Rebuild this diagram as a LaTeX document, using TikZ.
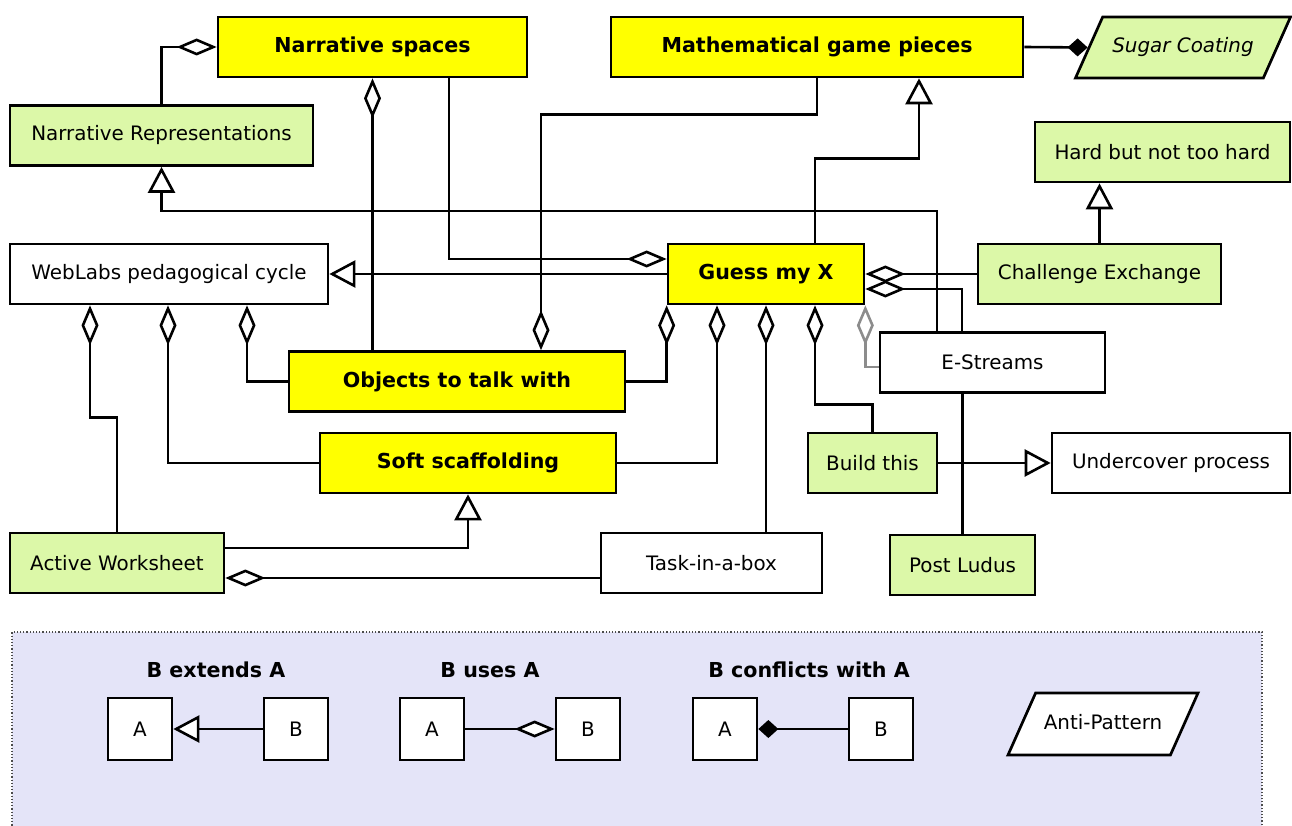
\documentclass[tikz,border=0pt]{standalone}
\usepackage{fontspec}
\setmainfont{DejaVu Sans}
\usetikzlibrary{arrows.meta,shapes.geometric}
\definecolor{padyellow}{HTML}{FFFF00}
\definecolor{padgreen}{HTML}{DCF8A8}
\definecolor{keyblue}{HTML}{E4E4F8}
\begin{document}
\begin{tikzpicture}[x=1pt,y=-1pt]
    \tikzstyle{padbox}=[draw=black,line width=2.7pt,minimum height=60pt,inner sep=0pt,font=\fontsize{19.9}{23}\selectfont]
    \tikzstyle{yellowbox}=[padbox,fill=padyellow,font=\fontsize{20.6}{24}\selectfont\bfseries]
    \tikzstyle{greenbox}=[padbox,fill=padgreen]
    \tikzstyle{whitebox}=[padbox,fill=white]
    \tikzstyle{antibox}=[padbox,minimum height=0pt,shape=trapezium,trapezium left angle=66,trapezium right angle=114,trapezium stretches body=true,text height=15pt,text depth=5pt,inner ysep=20.5pt]
    \tikzstyle{keytitle}=[font=\fontsize{20.6}{24}\selectfont\bfseries]
    \tikzstyle{uses}=[line width=2.6pt,-{Diamond[fill=white,length=40pt,width=17pt]}]
    \tikzstyle{extends}=[line width=2.6pt,-{Triangle[fill=white,length=26pt,width=27pt]}]
    \tikzstyle{conflicts}=[line width=2.6pt,-{Diamond[length=20pt,width=18pt]}]

    \useasboundingbox (0,0) rectangle (1292,826);

    % legend panel
    \node[draw=black!70,dotted,line width=1.2pt,fill=keyblue,minimum width=1250pt,minimum height=210pt,inner sep=0pt] at (637,737) (legend) {};

    % patterns
    \node[yellowbox,minimum width=309pt] at (372.5,47) (nspaces) {Narrative spaces};
    \node[yellowbox,minimum width=412pt] at (817,47) (mgp) {Mathematical game pieces};
    \node[antibox,fill=padgreen,minimum width=215pt,font=\fontsize{19.9}{23}\selectfont\itshape] at (1183,47.5) (sugar) {Sugar Coating};
    \node[greenbox,minimum width=303pt] at (161.5,135.5) (nrep) {Narrative Representations};
    \node[greenbox,minimum width=255pt] at (1162.5,152) (hard) {Hard but not too hard};
    \node[whitebox,minimum width=318pt] at (169,274) (weblabs) {WebLabs pedagogical cycle};
    \node[yellowbox,minimum width=196pt] at (766,274) (gmx) {Guess my X};
    \node[greenbox,minimum width=243pt] at (1099.5,274) (chall) {Challenge Exchange};
    \node[yellowbox,minimum width=336pt] at (457,381.5) (objects) {Objects to talk with};
    \node[whitebox,minimum width=225pt] at (992.5,362.5) (estreams) {E-Streams};
    \node[yellowbox,minimum width=296pt] at (468,463) (soft) {Soft scaffolding};
    \node[greenbox,minimum width=129pt] at (872.5,463) (build) {Build this};
    \node[whitebox,minimum width=238pt] at (1171,463) (under) {Undercover process};
    \node[greenbox,minimum width=214pt] at (117,563) (active) {Active Worksheet};
    \node[whitebox,minimum width=221pt] at (711.5,563) (task) {Task-in-a-box};
    \node[greenbox,minimum width=145pt] at (962.5,565) (post) {Post Ludus};

    % relations
    \draw[uses] (nrep.north) |- (nspaces.west);
    \draw[uses] (objects.north -| nspaces.south) -- (nspaces.south);
    \draw[uses] ([xshift=76.5pt]nspaces.south) |- ([yshift=15pt]gmx.west);
    \draw[uses] (mgp.south) -- ++(0,36) -| ([xshift=84pt]objects.north);
    \draw[extends] ([xshift=49pt]gmx.north) -- ++(0,-84) -| ([xshift=102pt]mgp.south);
    \draw[conflicts] (mgp.east) -- (sugar.west);
    \draw[extends] ([xshift=-55.5pt]estreams.north) -- ++(0,-120) -| (nrep.south);
    \draw[extends] (chall.north) -- (chall.north |- hard.south);
    \draw[extends] (gmx.west) -- (weblabs.east);
    \draw[uses] (chall.west) -- (gmx.east);
    \draw[uses] ([xshift=-30.5pt]estreams.north) |- ([yshift=-15pt]gmx.east);
    \draw[uses,draw=black!45] ([yshift=-4.5pt]estreams.west) -| (gmx.south east);
    \draw[uses] (objects.east) -| (gmx.south west);
    \draw[uses] (soft.east) -| ([xshift=-49pt]gmx.south);
    \draw[uses] (task.north -| gmx.south) -- (gmx.south);
    \draw[uses] (build.north) -- ++(0,-27) -| ([xshift=49pt]gmx.south);
    \draw[uses] (active.north) -- ++(0,-114) -| ([xshift=-79pt]weblabs.south);
    \draw[uses] (soft.west) -| ([xshift=-1pt]weblabs.south);
    \draw[uses] (objects.west) -| ([xshift=78pt]weblabs.south);
    \draw[extends] ([yshift=15pt]active.east) -| (soft.south);
    \draw[uses] ([yshift=-15pt]task.west) -- ([yshift=-15pt]active.east);
    \draw[extends] (build.east) -- (under.west);
    \draw[line width=2.6pt] (post.north |- estreams.south) -- (post.north);

    % key
    \node[keytitle] at (216,670) (t1) {B extends A};
    \node[keytitle] at (490,670) (t2) {B uses A};
    \node[keytitle] at (809,670) (t3) {B conflicts with A};
    \node[whitebox,minimum width=64pt,minimum height=62pt] at (140,729) (a1) {A};
    \node[whitebox,minimum width=64pt,minimum height=62pt] at (296,729) (b1) {B};
    \node[whitebox,minimum width=64pt,minimum height=62pt] at (432,729) (a2) {A};
    \node[whitebox,minimum width=64pt,minimum height=62pt] at (588,729) (b2) {B};
    \node[whitebox,minimum width=64pt,minimum height=62pt] at (725,729) (a3) {A};
    \node[whitebox,minimum width=64pt,minimum height=62pt] at (881,729) (b3) {B};
    \node[antibox,fill=white,minimum width=190pt,inner ysep=21pt] at (1103,724) (anti) {Anti-Pattern};

    \draw[extends] (b1.west) -- (a1.east);
    \draw[uses] (a2.east) -- (b2.west);
    \draw[conflicts] (b3.west) -- (a3.east);
\end{tikzpicture}
\end{document}
